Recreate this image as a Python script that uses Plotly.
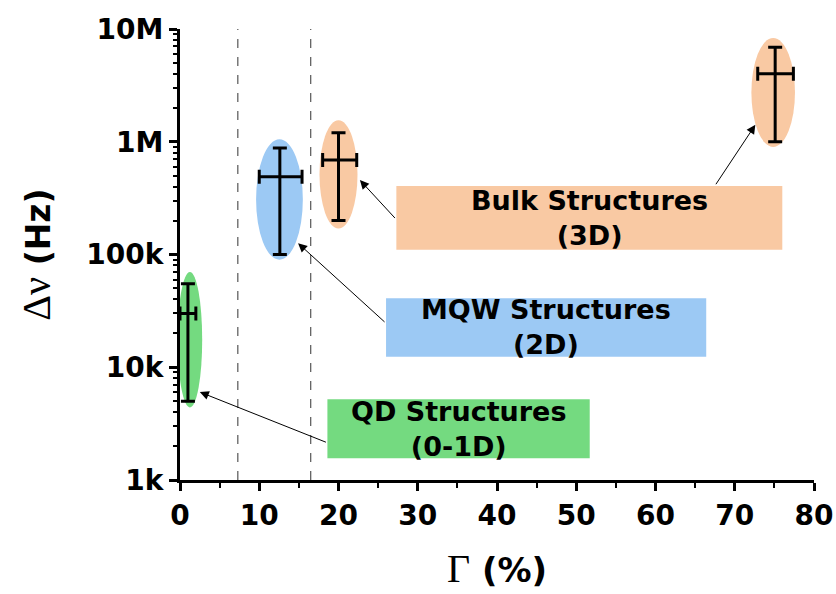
"""Linewidth vs. Gamma for QD / MQW / bulk structures."""
import math
import plotly.graph_objects as go

# error-bar data: gamma (%) and linewidth (Hz)
GROUPS = ['QD', 'MQW', 'Bulk-1', 'Bulk-2']
GAMMA = [1.0, 12.6, 20.0, 75.1]
GAMMA_LO = [1.0, 2.6, 2.0, 2.2]
GAMMA_HI = [1.0, 2.8, 2.3, 2.3]
DNU = [3.0e4, 4.9e5, 6.9e5, 4.0e6]
DNU_LO = [2.5e4, 3.9e5, 4.9e5, 3.0e6]
DNU_HI = [2.5e4, 3.9e5, 5.1e5, 2.9e6]

# shaded ellipses around each point: x0, x1, y0, y1
ELL_X0 = [-0.3, 9.6, 17.6, 72.1]
ELL_X1 = [2.8, 15.5, 22.4, 77.6]
ELL_Y0 = [4.4e3, 9.0e4, 1.7e5, 9.0e5]
ELL_Y1 = [7.0e4, 1.05e6, 1.55e6, 8.3e6]
GREEN = '#74DA80'
BLUE = '#9CC9F4'
PEACH = '#F9C9A3'
ELL_COLORS = [GREEN, BLUE, PEACH, PEACH]

# dashed dividers
DIVIDERS = [7.3, 16.5]

# label boxes: text, x0, x1, y0, y1, colour
LABELS = ['QD Structures<br>(0-1D)', 'MQW Structures<br>(2D)', 'Bulk Structures<br>(3D)']
BOX_X0 = [18.6, 26.0, 27.3]
BOX_X1 = [51.7, 66.4, 76.0]
BOX_Y0 = [1.56e3, 1.24e4, 1.1e5]
BOX_Y1 = [5.2e3, 4.1e4, 4.05e5]
BOX_COLORS = [GREEN, BLUE, PEACH]

# arrows (log10 of y for annotations): tail -> head
ARR_TAIL_X = [18.6, 26.0, 27.3, 67.5]
ARR_TAIL_Y = [3.33, 4.39, 5.31, 5.61]
ARR_HEAD_X = [2.5, 14.9, 22.7, 72.6]
ARR_HEAD_Y = [3.78, 5.10, 5.66, 6.15]

X_TICKS = [0, 10, 20, 30, 40, 50, 60, 70, 80]
Y_TICKS = [1e3, 1e4, 1e5, 1e6, 1e7]
Y_TICKTEXT = ['1k', '10k', '100k', '1M', '10M']

FONT = 'DejaVu Sans'
SERIF = 'Liberation Serif'

fig = go.Figure()

for i in range(len(GROUPS)):
    fig.add_shape(type='circle', xref='x', yref='y', layer='below',
                  x0=ELL_X0[i], x1=ELL_X1[i], y0=ELL_Y0[i], y1=ELL_Y1[i],
                  fillcolor=ELL_COLORS[i], line_width=0)

for i in range(len(LABELS)):
    fig.add_shape(type='rect', xref='x', yref='y', layer='below',
                  x0=BOX_X0[i], x1=BOX_X1[i], y0=BOX_Y0[i], y1=BOX_Y1[i],
                  fillcolor=BOX_COLORS[i], line_width=0)
    fig.add_annotation(x=(BOX_X0[i] + BOX_X1[i]) / 2,
                       y=(math.log10(BOX_Y0[i]) + math.log10(BOX_Y1[i])) / 2,
                       text='<b>' + LABELS[i] + '</b>', showarrow=False,
                       font=dict(family=FONT, size=27, color='black'))

for xv in DIVIDERS:
    fig.add_shape(type='line', xref='x', yref='paper', x0=xv, x1=xv, y0=0, y1=1,
                  line=dict(color='#333333', width=1, dash='dash'))

fig.add_trace(go.Scatter(
    x=GAMMA, y=DNU, mode='markers',
    marker=dict(size=1, color='black'),
    error_x=dict(type='data', symmetric=False, array=GAMMA_HI, arrayminus=GAMMA_LO,
                 color='black', thickness=3, width=7),
    error_y=dict(type='data', symmetric=False, array=DNU_HI, arrayminus=DNU_LO,
                 color='black', thickness=3, width=7),
    showlegend=False,
    hovertemplate='Γ: %{x}%<br>Δν: %{y:.2s} Hz<extra></extra>',
))

for i in range(len(ARR_TAIL_X)):
    fig.add_annotation(x=ARR_HEAD_X[i], y=ARR_HEAD_Y[i], ax=ARR_TAIL_X[i], ay=ARR_TAIL_Y[i],
                       xref='x', yref='y', axref='x', ayref='y', text='',
                       showarrow=True, arrowhead=2, arrowsize=1.8, arrowwidth=1,
                       arrowcolor='black')

fig.update_layout(
    width=836, height=594,
    paper_bgcolor='white', plot_bgcolor='white',
    margin=dict(l=180, r=22, t=29, b=114),
    font=dict(family=FONT, color='black'),
)
fig.update_xaxes(
    range=[0, 80], showgrid=False, zeroline=False, automargin=False,
    showline=True, linecolor='black', linewidth=3,
    tickmode='array', tickvals=X_TICKS, ticktext=['<b>%d</b>' % v for v in X_TICKS],
    ticks='outside', ticklen=8, tickwidth=3, tickcolor='black',
    tickfont=dict(family=FONT, size=28, color='black'),
    minor=dict(dtick=5, ticks='outside', ticklen=5, tickwidth=2, tickcolor='black'),
    title=dict(text="<span style='font-family:" + SERIF + "; font-size:40px'>Γ</span><b> (%)</b>",
               font=dict(family=FONT, size=34, color='black'), standoff=28),
)
fig.update_yaxes(
    type='log', range=[3, 7], showgrid=False, zeroline=False, automargin=False,
    showline=True, linecolor='black', linewidth=3,
    tickmode='array', tickvals=Y_TICKS, ticktext=['<b>' + t + '</b>' for t in Y_TICKTEXT],
    ticks='outside', ticklen=8, tickwidth=3, tickcolor='black',
    tickfont=dict(family=FONT, size=28, color='black'),
    minor=dict(dtick='D1', ticks='outside', ticklen=4, tickwidth=2, tickcolor='black'),
    title=dict(text="<span style='font-family:" + SERIF + "; font-size:40px'>Δν</span><b> (Hz)</b>",
               font=dict(family=FONT, size=33, color='black'), standoff=26),
)

fig.write_html('out.html', config={'displayModeBar': False},
               post_script="document.body.style.margin='0';")
